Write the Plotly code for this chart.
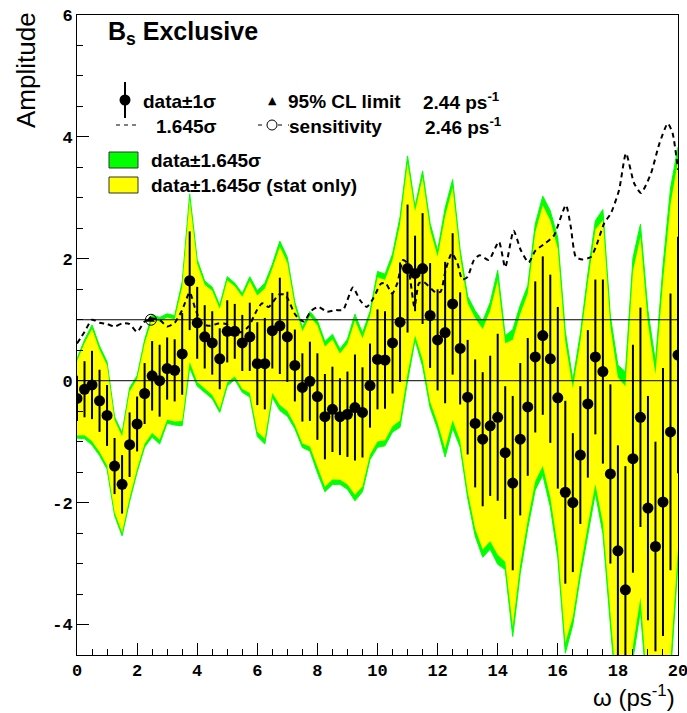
import plotly.graph_objects as go

# ---------------- data ----------------
omega = [0.00, 0.25, 0.50, 0.75, 1.00, 1.25, 1.50, 1.75, 2.00, 2.25,
         2.50, 2.75, 3.00, 3.25, 3.50, 3.75, 4.00, 4.25, 4.50, 4.75,
         5.00, 5.25, 5.50, 5.75, 6.00, 6.25, 6.50, 6.75, 7.00, 7.25,
         7.50, 7.75, 8.00, 8.25, 8.50, 8.75, 9.00, 9.25, 9.50, 9.75,
         10.00, 10.25, 10.50, 10.75, 11.00, 11.25, 11.50, 11.75, 12.00, 12.25,
         12.50, 12.75, 13.00, 13.25, 13.50, 13.75, 14.00, 14.25, 14.50, 14.75,
         15.00, 15.25, 15.50, 15.75, 16.00, 16.25, 16.50, 16.75, 17.00, 17.25,
         17.50, 17.75, 18.00, 18.25, 18.50, 18.75, 19.00, 19.25, 19.50, 19.75,
         20.00]

amplitude = [-0.29, -0.14, -0.07, -0.33, -0.57, -1.40, -1.70, -1.05, -0.71, -0.21,
             0.08, 0.00, 0.20, 0.17, 0.44, 1.64, 0.95, 0.72, 0.62, 0.36,
             0.81, 0.81, 0.62, 0.72, 0.28, 0.28, 0.82, 0.90, 0.72, 0.25,
             -0.11, -0.01, -0.26, -0.59, -0.47, -0.59, -0.55, -0.44, -0.52, -0.08,
             0.35, 0.34, 0.62, 0.96, 1.84, 1.76, 1.84, 1.07, 0.67, 0.79,
             1.26, 0.53, -0.27, -0.70, -0.96, -0.74, -0.60, -1.18, -1.68, -0.96,
             -0.43, 0.39, 0.74, 0.36, -0.28, -1.83, -2.00, -1.22, -0.38, 0.39,
             0.15, -1.53, -2.79, -3.43, -1.28, -0.60, -2.09, -2.72, -1.99, -0.84,
             0.42]

sigma = [0.37, 0.46, 0.56, 0.51, 0.50, 0.46, 0.48, 0.53, 0.45, 0.50,
         0.57, 0.59, 0.51, 0.51, 0.67, 0.81, 0.59, 0.52, 0.52, 0.50,
         0.51, 0.45, 0.46, 0.56, 0.68, 0.75, 0.62, 0.79, 0.74, 0.59,
         0.56, 0.65, 0.71, 0.70, 0.70, 0.63, 0.70, 0.87, 0.74, 0.69,
         0.82, 0.80, 0.83, 0.98, 1.05, 0.62, 0.91, 0.86, 0.83, 1.16,
         1.16, 0.92, 0.94, 1.05, 1.10, 1.15, 1.37, 1.09, 1.43, 1.25,
         1.13, 1.24, 1.30, 1.38, 1.49, 1.50, 1.14, 1.13, 1.21, 1.27,
         1.51, 1.47, 1.73, 2.03, 1.87, 1.80, 1.84, 1.72, 2.20, 2.27,
         1.94]

# total / stat-only width ratio (green band slightly wider than yellow)
tot_over_stat = 1.07
n_sigma_band = 1.645

# 1.645 sigma sensitivity curve (dashed)
sens_omega = [0.00, 0.25, 0.50, 0.75, 1.00, 1.25, 1.50, 1.75, 2.00, 2.25,
              2.50, 2.75, 3.00, 3.25, 3.50, 3.75, 3.93, 4.16, 4.43, 4.71,
              4.97, 5.24, 5.49, 5.71, 5.99, 6.16, 6.38, 6.71, 6.93, 7.27,
              7.54, 7.80, 8.04, 8.32, 8.60, 8.85, 9.18, 9.42, 9.64, 9.87,
              10.11, 10.27, 10.49, 10.66, 10.85, 10.99, 11.23, 11.38, 11.54, 11.93,
              12.10, 12.27, 12.47, 12.66, 12.82, 12.99, 13.21, 13.40, 13.70, 14.04,
              14.25, 14.53, 14.77, 15.03, 15.25, 15.60, 15.87, 16.27, 16.43, 16.60,
              16.82, 17.10, 17.27, 17.54, 17.77, 18.04, 18.27, 18.54, 18.77, 19.10,
              19.38, 19.66, 19.82, 20.00]
sens_value = [0.61, 0.80, 1.00, 0.95, 0.93, 0.89, 0.94, 0.93, 0.80, 0.97,
              1.02, 1.00, 0.89, 0.95, 1.16, 1.45, 1.19, 0.93, 0.90, 0.94,
              0.93, 0.80, 0.80, 0.89, 1.16, 1.27, 1.21, 1.41, 1.41, 1.08,
              0.97, 1.15, 1.21, 1.13, 1.16, 1.16, 1.53, 1.32, 1.21, 1.36,
              1.59, 1.60, 1.43, 1.60, 1.98, 1.93, 1.21, 1.60, 1.62, 1.45,
              1.46, 1.82, 2.09, 1.93, 1.66, 1.70, 1.98, 2.06, 1.98, 2.28,
              1.86, 2.46, 2.14, 1.94, 2.13, 2.26, 2.38, 2.88, 2.53, 2.03,
              1.99, 2.03, 2.20, 2.58, 2.75, 3.13, 3.73, 3.24, 3.08, 3.40,
              3.89, 4.22, 4.06, 3.46]

limit_omega = [2.44]     # 95% CL limit
sensitivity_omega = [2.46]
limit_level = [1.0]
ref_levels = [0.0, 1.0]

x_ticks = [0, 2, 4, 6, 8, 10, 12, 14, 16, 18, 20]
y_ticks = [-4, -2, 0, 2, 4, 6]
y_ticktext = ["-4", "-2", "0", "2", "4", "6"]

# ---------------- derived bands ----------------
stat_lo = [a - n_sigma_band * s for a, s in zip(amplitude, sigma)]
stat_hi = [a + n_sigma_band * s for a, s in zip(amplitude, sigma)]
tot_lo = [a - n_sigma_band * s * tot_over_stat for a, s in zip(amplitude, sigma)]
tot_hi = [a + n_sigma_band * s * tot_over_stat for a, s in zip(amplitude, sigma)]

GREEN = "#00ff00"
YELLOW = "#ffff00"
SANS = "Liberation Sans, Arial, Helvetica, sans-serif"
MONO = "Liberation Mono, Courier New, monospace"

fig = go.Figure()

# green band (total)
fig.add_trace(go.Scatter(x=omega, y=tot_lo, mode="lines",
                         line=dict(color=GREEN, width=1), hoverinfo="skip"))
fig.add_trace(go.Scatter(x=omega, y=tot_hi, mode="lines", fill="tonexty",
                         fillcolor=GREEN, line=dict(color=GREEN, width=1),
                         hoverinfo="skip"))
# yellow band (stat only)
fig.add_trace(go.Scatter(x=omega, y=stat_lo, mode="lines",
                         line=dict(color=YELLOW, width=0), hoverinfo="skip"))
fig.add_trace(go.Scatter(x=omega, y=stat_hi, mode="lines", fill="tonexty",
                         fillcolor=YELLOW, line=dict(color=YELLOW, width=0),
                         hoverinfo="skip"))

# dashed 1.645 sigma curve
fig.add_trace(go.Scatter(x=sens_omega, y=sens_value, mode="lines",
                         line=dict(color="black", width=2, dash="5px,4px",
                                   shape="spline", smoothing=0.6),
                         hoverinfo="skip"))

# data points with 1 sigma error bars
fig.add_trace(go.Scatter(x=omega, y=amplitude, mode="markers",
                         marker=dict(color="black", size=11),
                         error_y=dict(type="data", array=sigma, visible=True,
                                      color="black", thickness=2, width=0),
                         cliponaxis=True))

# limit & sensitivity markers
fig.add_trace(go.Scatter(x=limit_omega, y=limit_level, mode="markers",
                         marker=dict(symbol="triangle-up", color="black", size=8)))
fig.add_trace(go.Scatter(x=sensitivity_omega, y=limit_level, mode="markers",
                         marker=dict(symbol="circle-open", color="black", size=11,
                                     line=dict(width=1, color="black"))))

# reference lines at 0 and 1
for lvl in ref_levels:
    fig.add_shape(type="line", xref="x domain", yref="y", x0=0, x1=1, y0=lvl, y1=lvl,
                  line=dict(color="black", width=1), layer="above")

# ---------------- legend / labels (pixel positions -> paper) ----------------
L, R, T, B = 77, 678, 15, 655


def px(x):
    return (x - L) / (R - L)


def py(y):
    return (B - y) / (B - T)


def label(text, xp, yp, size=19, bold=True, xanchor="left", family=SANS):
    fig.add_annotation(xref="paper", yref="paper", x=px(xp), y=py(yp), text=text,
                       showarrow=False, xanchor=xanchor, yanchor="middle",
                       font=dict(family=family, size=size, color="black",
                                 weight="bold" if bold else "normal"))


# title
label("B<sub>s</sub> Exclusive", 106, 33, size=25)

# data +- 1 sigma legend item
fig.add_shape(type="line", xref="paper", yref="paper", x0=px(125), x1=px(125),
              y0=py(82), y1=py(118), line=dict(color="black", width=2))
fig.add_shape(type="circle", xref="paper", yref="paper", xsizemode="pixel",
              ysizemode="pixel", xanchor=px(125), yanchor=py(100),
              x0=-5.5, x1=5.5, y0=-5.5, y1=5.5, fillcolor="black",
              line=dict(color="black", width=0))
label("data±1σ", 141, 101)

# 1.645 sigma legend item
fig.add_shape(type="line", xref="paper", yref="paper", x0=px(116), x1=px(139),
              y0=py(125), y1=py(125), line=dict(color="black", width=1, dash="4px,4px"))
label("1.645σ", 154, 126)

# 95% CL limit
label("▲", 272, 100, size=11, bold=False, xanchor="center", family="DejaVu Sans")
label("95% CL limit", 286, 101)
label("2.44 ps<sup>-1</sup>", 421, 101)

# sensitivity
fig.add_shape(type="line", xref="paper", yref="paper", x0=px(258), x1=px(289),
              y0=py(125), y1=py(125), line=dict(color="black", width=1, dash="4px,6px"))
fig.add_shape(type="circle", xref="paper", yref="paper", xsizemode="pixel",
              ysizemode="pixel", xanchor=px(272), yanchor=py(125),
              x0=-5, x1=5, y0=-5, y1=5, fillcolor="white",
              line=dict(color="black", width=1))
label("sensitivity", 287, 126)
label("2.46 ps<sup>-1</sup>", 423, 126)

# band legend boxes
fig.add_shape(type="rect", xref="paper", yref="paper", x0=px(109), x1=px(138),
              y0=py(168), y1=py(152), fillcolor=GREEN, line=dict(color="#333", width=1))
label("data±1.645σ", 149, 160)
fig.add_shape(type="rect", xref="paper", yref="paper", x0=px(109), x1=px(138),
              y0=py(193), y1=py(177), fillcolor=YELLOW, line=dict(color="#333", width=1))
label("data±1.645σ (stat only)", 149, 185)

# axis titles
fig.add_annotation(xref="paper", yref="paper", x=px(26), y=py(70), text="Amplitude",
                   textangle=-90, showarrow=False, xanchor="center", yanchor="middle",
                   font=dict(family=SANS, size=26, color="black"))
fig.add_annotation(xref="paper", yref="paper", x=px(677), y=py(696),
                   text="ω (ps<sup>-1</sup>)", showarrow=False, xanchor="right",
                   yanchor="middle", font=dict(family=SANS, size=24, color="black"))

axis_common = dict(showgrid=False, zeroline=False, showline=True, linecolor="black",
                   linewidth=1, mirror=True, ticks="inside", tickcolor="black",
                   tickwidth=1, ticklen=12, ticklabeloverflow="allow",
                   automargin=False,
                   tickfont=dict(family=MONO, size=17, color="black", weight="bold"))

fig.update_xaxes(range=[0, 20], tickvals=x_ticks,
                 minor=dict(ticks="inside", ticklen=6, tick0=0, dtick=0.5,
                            tickcolor="black", showgrid=False),
                 **axis_common)
fig.update_yaxes(range=[-4.5, 6], tickvals=y_ticks, ticktext=y_ticktext,
                 minor=dict(ticks="inside", ticklen=6, tick0=0, dtick=0.5,
                            tickcolor="black", showgrid=False),
                 **axis_common)

fig.update_layout(width=687, height=713, showlegend=False,
                  margin=dict(l=L, r=687 - R, t=T, b=713 - B, autoexpand=False),
                  plot_bgcolor="white", paper_bgcolor="white")

fig.write_html("out.html")
